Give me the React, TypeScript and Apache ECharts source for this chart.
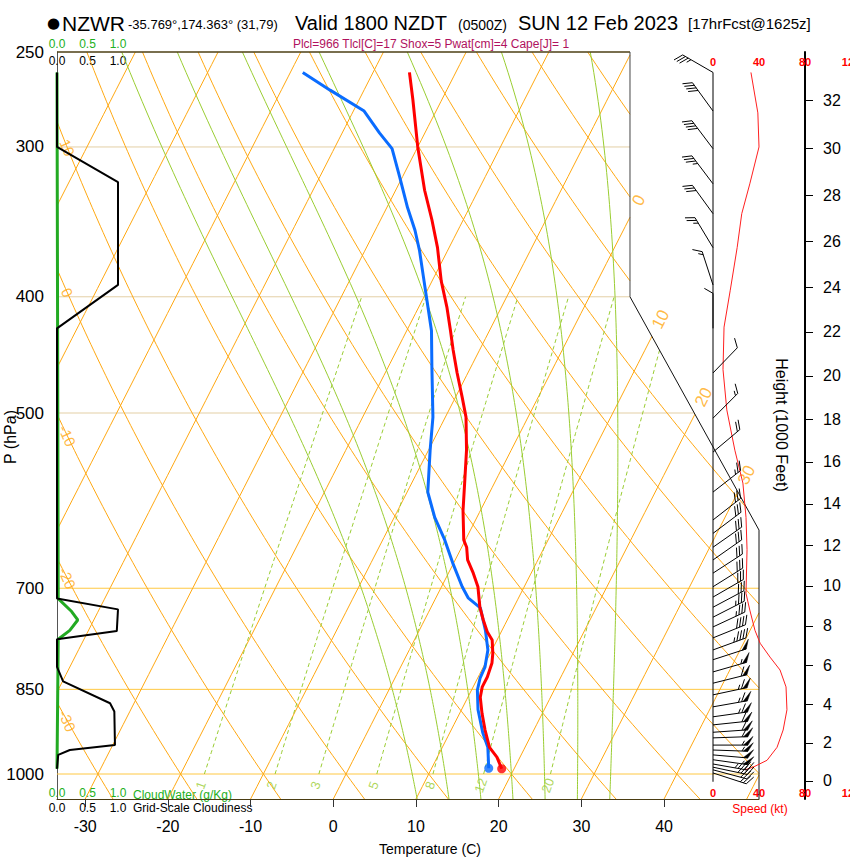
import React, { useEffect, useRef } from "react";
import * as echarts from "echarts";

// ---------------- data ----------------
const PRESSURE_LEVELS = [250, 300, 400, 500, 700, 850, 1000];
const TEMP_TICKS = [-30, -20, -10, 0, 10, 20, 30, 40];
const HEIGHT_TICKS_KFT = [0, 2, 4, 6, 8, 10, 12, 14, 16, 18, 20, 22, 24, 26, 28, 30, 32];
const SPEED_TICKS = [0, 40, 80, 120];
const CLOUD_TICKS = [0, 0.5, 1.0];

const ISOBARS_LIGHT = [300, 400, 500];
const ISOBARS_MAIN = [700, 850, 1000];
const ISOTHERMS = [-80, -70, -60, -50, -40, -30, -20, -10, 0, 10, 20, 30, 40, 50];
const ISOTHERM_LABELS = [0, 10, 20, 30];
const DRY_ADIABATS = [-40, -30, -20, -10, 0, 10, 20, 30, 40, 50, 60, 70, 80, 90, 100, 110, 120, 130];
const DRY_ADIABAT_LABELS = [10, 0, -10, -20, -30];
const MOIST_ADIABATS = [8, 12, 16, 20, 24, 28, 32];
const MIXING_RATIOS = [1, 2, 3, 5, 8, 12, 20];

const TEMP_P = [260, 274, 300, 326, 345, 364, 388, 408, 427, 443, 463, 485, 504, 537, 572, 603, 638, 647, 663, 680, 698, 726, 744, 761, 773, 793, 808, 830, 846, 863, 890, 919, 950, 968, 990];
const TEMP_C = [-35.6, -33.5, -30.0, -26.5, -23.8, -21.4, -18.9, -16.6, -14.7, -13.2, -11.3, -9.2, -7.5, -5.4, -3.6, -2.1, -0.2, 0.6, 1.5, 3.0, 4.4, 5.9, 7.1, 8.3, 9.4, 10.3, 10.8, 11.1, 11.1, 11.5, 12.7, 14.1, 15.7, 17.2, 18.5];

const DEW_P = [260, 269, 280, 292, 301, 318, 337, 352, 366, 385, 403, 427, 458, 504, 537, 582, 611, 638, 667, 698, 713, 727, 759, 788, 814, 832, 851, 884, 924, 950, 989];
const DEW_C = [-48.5, -44.1, -38.7, -35.5, -33.0, -30.3, -27.5, -25.2, -23.4, -21.3, -19.4, -17.0, -14.7, -11.5, -9.8, -7.5, -5.1, -2.5, -0.1, 2.5, 3.9, 6.0, 8.0, 9.5, 10.2, 10.3, 10.7, 12.0, 14.0, 15.5, 16.9];

const CLOUD_P = [260, 300, 321, 391, 425, 714, 729, 760, 772, 814, 837, 873, 887, 946, 955, 964, 990];
const CLOUD_FRAC = [0, 0, 1.0, 1.0, 0, 0, 1.0, 0.98, 0, 0, 0.1, 0.87, 0.94, 0.95, 0.21, 0.02, 0];

const CLOUDWATER_P = [260, 714, 732, 744, 759, 772, 990];
const CLOUDWATER = [0, 0.02, 0.24, 0.34, 0.21, 0.02, 0];

const SPEED_P = [260, 281, 300, 322, 341, 364, 395, 424, 460, 497, 537, 572, 611, 650, 707, 730, 759, 778, 799, 819, 846, 884, 919, 950, 974, 987, 992];
const SPEED_KT = [33, 39, 40, 32, 25, 21, 15, 9.6, 8.7, 12, 19, 26, 28.7, 29.6, 28.7, 32, 36.5, 41, 49.6, 58.3, 63.5, 64.3, 61, 55.7, 47, 34.8, 27.8];

const WIND_P = [260, 280, 301, 322, 341, 364, 391, 425, 463, 505, 539, 582, 614, 630, 647, 663, 680, 698, 712, 726, 740, 754, 770, 788, 803, 822, 840, 859, 879, 896, 910, 923, 933, 946, 955, 964, 973, 981, 987, 992, 998];
const WIND_DIR = [300, 324, 323, 323, 324, 329, 342, 360, 44, 45, 50, 52, 52, 53, 55, 55, 57, 58, 60, 62, 63, 65, 68, 70, 72, 74, 76, 78, 80, 82, 84, 86, 88, 90, 92, 95, 98, 100, 102, 105, 108];
const WIND_KT = [35, 40, 40, 35, 30, 25, 15, 10, 10, 15, 20, 25, 28, 29, 30, 30, 30, 30, 30, 31, 33, 36, 40, 46, 52, 57, 61, 63, 64, 64, 62, 61, 59, 57, 55, 52, 48, 44, 36, 30, 26];

// ---------------- geometry of the skew-T frame ----------------
const X_MIN = -33.41;
const X_MAX = 51.48;
const X_FRAME_TOP = 35.88;
const H_MIN = -0.048;
const H_MAX = Math.log(4);
const SKEW = 32.12;
const FRAME_KNEE_P = [400, 626];
const PX_PER_H = 747 / (H_MAX - H_MIN);

const FONT = "'Liberation Sans', Arial, sans-serif";
const ORANGE = "#FFA812";
const GREEN = "#9ACD32";

const hOf = (p: number) => Math.log(1000 / p);
const pOf = (h: number) => 1000 * Math.exp(-h);
const skewX = (t: number, p: number) => t + SKEW * (hOf(p) - H_MIN);
const frameX = (h: number) => {
  const h1 = hOf(FRAME_KNEE_P[0]);
  const h2 = hOf(FRAME_KNEE_P[1]);
  if (h >= h1) return X_FRAME_TOP;
  if (h <= h2) return X_MAX;
  return X_MAX + ((X_FRAME_TOP - X_MAX) * (h - h2)) / (h1 - h2);
};
const inside = (pt: number[]) =>
  pt[0] >= X_MIN - 1e-6 && pt[0] <= frameX(pt[1]) + 1e-6 && pt[1] >= H_MIN - 1e-6 && pt[1] <= H_MAX + 1e-6;

function clipLine(pts: number[][]) {
  const out: number[][][] = [];
  let cur: number[][] = [];
  for (let i = 0; i < pts.length; i++) {
    const b = pts[i];
    const ib = inside(b);
    if (i === 0) {
      if (ib) cur.push(b);
      continue;
    }
    const a = pts[i - 1];
    const ia = inside(a);
    if (ia && ib) cur.push(b);
    else if (ia !== ib) {
      let lo = 0;
      let hi = 1;
      for (let k = 0; k < 30; k++) {
        const m = (lo + hi) / 2;
        const pm = [a[0] + (b[0] - a[0]) * m, a[1] + (b[1] - a[1]) * m];
        if (inside(pm) === ia) lo = m;
        else hi = m;
      }
      const t = ia ? lo : hi;
      const c = [a[0] + (b[0] - a[0]) * t, a[1] + (b[1] - a[1]) * t];
      if (ia) {
        cur.push(c);
        if (cur.length > 1) out.push(cur);
        cur = [];
      } else {
        cur = [c, b];
      }
    }
  }
  if (cur.length > 1) out.push(cur);
  return out;
}

const hSamples = (n: number) => {
  const a: number[] = [];
  for (let i = 0; i <= n; i++) a.push(H_MIN + ((H_MAX - H_MIN) * i) / n);
  return a;
};

const isothermPts = (t: number) => hSamples(60).map((h) => [t + SKEW * (h - H_MIN), h]);
const dryT = (theta: number, p: number) => (theta + 273.15) * Math.pow(p / 1000, 0.2857) - 273.15;
const dryPts = (theta: number) =>
  hSamples(120).map((h) => {
    const p = pOf(h);
    return [skewX(dryT(theta, p), p), h];
  });

function moistLapse(p: number, T: number) {
  const tc = T - 273.15;
  const es = 6.112 * Math.exp((17.67 * tc) / (tc + 243.5));
  const rs = (0.622 * es) / (p - es);
  const num = (287.04 * T + 2.501e6 * rs) / p;
  const den = 1005.7 + (2.501e6 * 2.501e6 * rs * 0.622) / (287.04 * T * T);
  return num / den;
}
function integrateMoist(T0: number, p0: number, p1: number, dp: number) {
  const res: number[][] = [[p0, T0]];
  let T = T0;
  let p = p0;
  while ((dp < 0 && p + dp >= p1 - 1e-9) || (dp > 0 && p + dp <= p1 + 1e-9)) {
    const k1 = moistLapse(p, T);
    const k2 = moistLapse(p + dp / 2, T + (dp / 2) * k1);
    const k3 = moistLapse(p + dp / 2, T + (dp / 2) * k2);
    const k4 = moistLapse(p + dp, T + dp * k3);
    T += (dp / 6) * (k1 + 2 * k2 + 2 * k3 + k4);
    p += dp;
    res.push([p, T]);
  }
  return res;
}
const moistPts = (thetaW: number) => {
  const up = integrateMoist(thetaW + 273.15, 1000, 250, -5);
  const down = integrateMoist(thetaW + 273.15, 1000, 1050, 5).slice(1).reverse();
  return down.concat(up).map(([p, T]) => [skewX(T - 273.15, p), hOf(p)]);
};

const tdFromMix = (w: number, p: number) => {
  const e = (w * p) / (622 + w);
  const l = Math.log(e / 6.112);
  return (243.5 * l) / (17.67 - l);
};
const mixPts = (w: number) => {
  const a: number[][] = [];
  for (let p = 1000; p >= 400; p -= 10) a.push([skewX(tdFromMix(w, p), p), hOf(p)]);
  return a;
};

const bisect = (f: (x: number) => number, a: number, b: number) => {
  let fa = f(a);
  for (let i = 0; i < 50; i++) {
    const m = (a + b) / 2;
    const fm = f(m);
    if (fm * fa > 0) {
      a = m;
      fa = fm;
    } else b = m;
  }
  return (a + b) / 2;
};

const kftToH = (k: number) => {
  const p = 1013.25 * Math.pow(1 - 2.25577e-5 * k * 304.8, 5.25588);
  return hOf(p);
};
const hToKft = (h: number) => {
  const p = pOf(h);
  return (1 - Math.pow(p / 1013.25, 1 / 5.25588)) / 2.25577e-5 / 304.8;
};

function linesSeries(lines: number[][][], color: string, width: number, type: any = "solid", z = 1) {
  const data: any[] = [];
  lines.forEach((l) => clipLine(l).forEach((seg) => data.push({ coords: seg })));
  return {
    type: "lines",
    coordinateSystem: "cartesian2d",
    xAxisIndex: 0,
    yAxisIndex: 0,
    polyline: true,
    silent: true,
    z,
    lineStyle: { color, width, type, opacity: 1 },
    data,
  };
}

function renderBarb(params: any, api: any) {
  const h = api.value(1);
  const dir = api.value(2);
  const spd = api.value(3);
  const base = api.coord([0, h]);
  const a = (dir * Math.PI) / 180;
  const ux = Math.sin(a);
  const uy = -Math.cos(a);
  const nx = uy;
  const ny = -ux;
  const L = 35;
  const tip = [base[0] + ux * L, base[1] + uy * L];
  const fx = 0.5 * ux + 0.866 * nx;
  const fy = 0.5 * uy + 0.866 * ny;
  const children: any[] = [
    { type: "line", shape: { x1: base[0], y1: base[1], x2: tip[0], y2: tip[1] }, style: { stroke: "#000", lineWidth: 1 } },
  ];
  let s = Math.round(spd / 5) * 5;
  let pos = 0;
  const FL = 10;
  const step = 3.2;
  while (s >= 50) {
    const px = tip[0] - ux * pos;
    const py = tip[1] - uy * pos;
    children.push({
      type: "polygon",
      shape: { points: [[px, py], [px + fx * FL, py + fy * FL], [px - ux * 4.5, py - uy * 4.5]] },
      style: { fill: "#000", stroke: "#000", lineWidth: 0.5 },
    });
    pos += 6;
    s -= 50;
  }
  while (s >= 10) {
    const px = tip[0] - ux * pos;
    const py = tip[1] - uy * pos;
    children.push({ type: "line", shape: { x1: px, y1: py, x2: px + fx * FL, y2: py + fy * FL }, style: { stroke: "#000", lineWidth: 1 } });
    pos += step;
    s -= 10;
  }
  if (s >= 5) {
    if (pos === 0) pos = step;
    const px = tip[0] - ux * pos;
    const py = tip[1] - uy * pos;
    children.push({ type: "line", shape: { x1: px, y1: py, x2: px + (fx * FL) / 2, y2: py + (fy * FL) / 2 }, style: { stroke: "#000", lineWidth: 1 } });
  }
  return { type: "group", children };
}

function buildOption() {
  const isobarLine = (p: number) => [[X_MIN, hOf(p)], [X_MAX, hOf(p)]];

  // labels
  const labelItems: any[] = [];
  DRY_ADIABAT_LABELS.forEach((th) => {
    const target = X_MIN + 1.25;
    const h = bisect((hh) => skewX(dryT(th, pOf(hh)), pOf(hh)) - target, H_MIN, H_MAX);
    labelItems.push({ value: [target, h], name: String(th), label: { rotate: -66, color: ORANGE, fontSize: 15 } });
  });
  ISOTHERM_LABELS.forEach((t) => {
    const he = bisect((hh) => t + SKEW * (hh - H_MIN) - frameX(hh), H_MIN, H_MAX);
    const h = he + 17 / PX_PER_H;
    labelItems.push({ value: [t + SKEW * (h - H_MIN), h], name: String(t), label: { rotate: 63, color: ORANGE, fontSize: 17 } });
  });
  MIXING_RATIOS.forEach((w) => {
    const p = 1022;
    labelItems.push({ value: [skewX(tdFromMix(w, p), p), hOf(p)], name: String(w), label: { rotate: 70, color: GREEN, fontSize: 13 } });
  });

  const tempData = TEMP_P.map((p, i) => [skewX(TEMP_C[i], p), hOf(p)]);
  const dewData = DEW_P.map((p, i) => [skewX(DEW_C[i], p), hOf(p)]);
  const tLast = TEMP_P.length - 1;
  const dLast = DEW_P.length - 1;

  const hFrame1 = hOf(FRAME_KNEE_P[0]);
  const hFrame2 = hOf(FRAME_KNEE_P[1]);

  const texts: any[] = [
    { type: "text", x: 47, y: 23, style: { text: "●", font: "15px 'DejaVu Sans'", fill: "#000", textAlign: "left", textVerticalAlign: "middle" } },
    { type: "text", x: 62, y: 23, style: { text: "NZWR", font: `21px ${FONT}`, fill: "#000", textAlign: "left", textVerticalAlign: "middle" } },
    { type: "text", x: 128, y: 24.5, style: { text: "-35.769°,174.363° (31,79)", font: `13px ${FONT}`, fill: "#000", textAlign: "left", textVerticalAlign: "middle" } },
    { type: "text", x: 295, y: 23, style: { text: "Valid 1800 NZDT", font: `20px ${FONT}`, fill: "#000", textAlign: "left", textVerticalAlign: "middle" } },
    { type: "text", x: 458, y: 24.5, style: { text: "(0500Z)", font: `14px ${FONT}`, fill: "#000", textAlign: "left", textVerticalAlign: "middle" } },
    { type: "text", x: 518, y: 23, style: { text: "SUN 12 Feb 2023", font: `20px ${FONT}`, fill: "#000", textAlign: "left", textVerticalAlign: "middle" } },
    { type: "text", x: 688, y: 23.5, style: { text: "[17hrFcst@1625z]", font: `15px ${FONT}`, fill: "#000", textAlign: "left", textVerticalAlign: "middle" } },
    { type: "text", x: 431, y: 43.5, style: { text: "Plcl=966 Tlcl[C]=17 Shox=5 Pwat[cm]=4 Cape[J]= 1", font: `12px ${FONT}`, fill: "#B0125E", textAlign: "center", textVerticalAlign: "middle" } },
    { type: "text", x: 430, y: 849, style: { text: "Temperature (C)", font: `14px ${FONT}`, fill: "#000", textAlign: "center", textVerticalAlign: "middle" } },
    { type: "text", x: 10, y: 437, rotation: Math.PI / 2, style: { text: "P (hPa)", font: `16px ${FONT}`, fill: "#000", textAlign: "center", textVerticalAlign: "middle" } },
    { type: "text", x: 781, y: 425, rotation: -Math.PI / 2, style: { text: "Height (1000 Feet)", font: `16px ${FONT}`, fill: "#000", textAlign: "center", textVerticalAlign: "middle" } },
    { type: "text", x: 760, y: 809, style: { text: "Speed (kt)", font: `12px ${FONT}`, fill: "#FF0000", textAlign: "center", textVerticalAlign: "middle" } },
    { type: "text", x: 133, y: 795, style: { text: "CloudWater (g/Kg)", font: `12px ${FONT}`, fill: "#22B022", textAlign: "left", textVerticalAlign: "middle" } },
    { type: "text", x: 133, y: 808, style: { text: "Grid-Scale Cloudiness", font: `12px ${FONT}`, fill: "#000", textAlign: "left", textVerticalAlign: "middle" } },
  ];

  const gridRect = { top: 52, height: 747, containLabel: false, outerBoundsMode: "none" };
  const noLine = { show: false, onZero: false };
  const hiddenY = (gi: number) => ({ gridIndex: gi, type: "value", min: H_MIN, max: H_MAX, show: false, axisLine: noLine });
  const cloudFmt = (v: number) => v.toFixed(1);

  return {
    animation: false,
    backgroundColor: "#fff",
    textStyle: { fontFamily: FONT },
    grid: [
      { ...gridRect, left: 57, width: 702 },
      { ...gridRect, left: 713, width: 138 },
      { ...gridRect, left: 57, width: 748 },
      { ...gridRect, left: 57, width: 61 },
      { ...gridRect, left: 57, width: 61 },
    ],
    xAxis: [
      {
        gridIndex: 0, type: "value", min: X_MIN, max: X_MAX, position: "bottom",
        axisLine: { show: true, onZero: false, lineStyle: { color: "#4a3c12", width: 1 } },
        axisTick: { show: true, customValues: TEMP_TICKS, length: 8, lineStyle: { color: "#333" } },
        axisLabel: { customValues: TEMP_TICKS, fontSize: 16, margin: 19, color: "#000" },
        splitLine: { show: false },
      },
      {
        gridIndex: 1, type: "value", min: 0, max: 120, position: "top",
        axisLine: noLine, axisTick: { show: false }, splitLine: { show: false },
        axisLabel: { customValues: SPEED_TICKS, inside: true, margin: 4, color: "#FF0000", fontSize: 11, fontWeight: "bold" },
      },
      {
        gridIndex: 1, type: "value", min: 0, max: 120, position: "bottom",
        axisLine: noLine, axisTick: { show: false }, splitLine: { show: false },
        axisLabel: { customValues: SPEED_TICKS, inside: true, margin: 1, color: "#FF0000", fontSize: 11, fontWeight: "bold" },
      },
      { gridIndex: 2, type: "value", min: 0, max: 1, show: false, axisLine: noLine },
      {
        gridIndex: 3, type: "value", min: 0, max: 1, position: "top",
        axisLine: noLine, axisTick: { show: false }, splitLine: { show: false },
        axisLabel: { customValues: CLOUD_TICKS, formatter: cloudFmt, margin: 2, color: "#22B022", fontSize: 12 },
      },
      {
        gridIndex: 3, type: "value", min: 0, max: 1, position: "bottom",
        axisLine: noLine, axisTick: { show: false }, splitLine: { show: false },
        axisLabel: { customValues: CLOUD_TICKS, formatter: cloudFmt, margin: 3, color: "#000", fontSize: 12 },
      },
      {
        gridIndex: 4, type: "value", min: 0, max: 1, position: "top",
        axisLine: noLine, axisTick: { show: false }, splitLine: { show: false },
        axisLabel: { customValues: CLOUD_TICKS, formatter: cloudFmt, inside: true, margin: 2.5, color: "#000", fontSize: 12 },
      },
      {
        gridIndex: 4, type: "value", min: 0, max: 1, position: "bottom",
        axisLine: noLine, axisTick: { show: false }, splitLine: { show: false },
        axisLabel: { customValues: CLOUD_TICKS, formatter: cloudFmt, inside: true, margin: 0, color: "#22B022", fontSize: 12 },
      },
    ],
    yAxis: [
      {
        gridIndex: 0, type: "value", min: H_MIN, max: H_MAX, position: "left",
        axisLine: { show: true, onZero: false, lineStyle: { color: "#555", width: 1 } },
        axisTick: { show: false }, splitLine: { show: false },
        axisLabel: {
          customValues: PRESSURE_LEVELS.map(hOf), fontSize: 17, margin: 13, color: "#000",
          formatter: (v: number) => String(Math.round(pOf(v))),
        },
      },
      hiddenY(1),
      {
        gridIndex: 2, type: "value", min: H_MIN, max: H_MAX, position: "right",
        axisLine: { show: true, onZero: false, lineStyle: { color: "#000", width: 2 } },
        axisTick: { show: true, customValues: HEIGHT_TICKS_KFT.map(kftToH), length: 8, lineStyle: { color: "#000", width: 1 } },
        splitLine: { show: false },
        axisLabel: {
          customValues: HEIGHT_TICKS_KFT.map(kftToH), fontSize: 16, margin: 18, color: "#000",
          formatter: (v: number) => String(Math.round(hToKft(v))),
        },
      },
      hiddenY(3),
      hiddenY(4),
    ],
    graphic: texts,
    series: [
      linesSeries(ISOBARS_LIGHT.map(isobarLine), "#E3CFA5", 1),
      linesSeries(ISOBARS_MAIN.map(isobarLine), "#FFC842", 1),
      linesSeries(ISOTHERMS.map(isothermPts), ORANGE, 1),
      linesSeries(DRY_ADIABATS.map(dryPts), ORANGE, 1),
      linesSeries(MOIST_ADIABATS.map(moistPts), GREEN, 1),
      linesSeries(MIXING_RATIOS.map(mixPts), GREEN, 1, [4, 3]),
      {
        type: "lines", coordinateSystem: "cartesian2d", xAxisIndex: 0, yAxisIndex: 0, polyline: true, silent: true, clip: false, z: 3,
        data: [
          { coords: [[X_MIN, H_MAX], [X_FRAME_TOP, H_MAX]], lineStyle: { color: "#4d3f14", width: 1.3, opacity: 1 } },
          { coords: [[X_FRAME_TOP, H_MAX], [X_FRAME_TOP, hFrame1]], lineStyle: { color: "#444", width: 1, opacity: 1 } },
          { coords: [[X_FRAME_TOP, hFrame1], [X_MAX, hFrame2], [X_MAX, H_MIN]], lineStyle: { color: "#111", width: 1, opacity: 1 } },
        ],
        lineStyle: { opacity: 1 },
      },
      {
        type: "scatter", xAxisIndex: 0, yAxisIndex: 0, symbolSize: 1, silent: true, z: 4,
        itemStyle: { color: "rgba(0,0,0,0)" },
        label: { show: true, position: "inside", formatter: "{b}", fontFamily: FONT },
        data: labelItems,
      },
      {
        type: "line", xAxisIndex: 0, yAxisIndex: 0, data: dewData, symbol: "none", z: 5, clip: false,
        lineStyle: { color: "#0A6CFF", width: 3 },
      },
      {
        type: "line", xAxisIndex: 0, yAxisIndex: 0, data: tempData, symbol: "none", z: 6, clip: false,
        lineStyle: { color: "#FF0000", width: 3 },
      },
      {
        type: "scatter", xAxisIndex: 0, yAxisIndex: 0, symbolSize: 9, z: 7,
        data: [
          { value: dewData[dLast], itemStyle: { color: "#0A6CFF" } },
          { value: tempData[tLast], itemStyle: { color: "#FF0000" } },
        ],
      },
      {
        type: "line", xAxisIndex: 4, yAxisIndex: 3, symbol: "none", clip: false, z: 5,
        data: CLOUDWATER_P.map((p, i) => [CLOUDWATER[i], hOf(p)]),
        lineStyle: { color: "#22AA22", width: 3 },
      },
      {
        type: "line", xAxisIndex: 4, yAxisIndex: 3, symbol: "none", clip: false, z: 6,
        data: CLOUD_P.map((p, i) => [CLOUD_FRAC[i], hOf(p)]),
        lineStyle: { color: "#000", width: 2 },
      },
      {
        type: "line", xAxisIndex: 1, yAxisIndex: 1, symbol: "none", clip: false, z: 5,
        data: [[0, hOf(260)], [0, hOf(1015)]],
        lineStyle: { color: "#000", width: 1 },
      },
      {
        type: "line", xAxisIndex: 1, yAxisIndex: 1, symbol: "none", clip: false, z: 6,
        data: SPEED_P.map((p, i) => [SPEED_KT[i], hOf(p)]),
        lineStyle: { color: "#FF2020", width: 1 },
      },
      {
        type: "custom", xAxisIndex: 1, yAxisIndex: 1, z: 7, clip: false, silent: true,
        renderItem: renderBarb,
        encode: { x: 0, y: 1 },
        data: WIND_P.map((p, i) => [0, hOf(p), WIND_DIR[i], WIND_KT[i]]),
      },
    ],
  };
}

export default function App() {
  const ref = useRef<HTMLDivElement>(null);
  useEffect(() => {
    if (!ref.current) return;
    const chart = echarts.init(ref.current, null, { renderer: "svg" });
    chart.setOption(buildOption() as any);
    return () => chart.dispose();
  }, []);
  return (
    <div
      ref={ref}
      style={{ position: "absolute", left: 0, top: 0, width: 850, height: 860, background: "#fff" }}
    />
  );
}
